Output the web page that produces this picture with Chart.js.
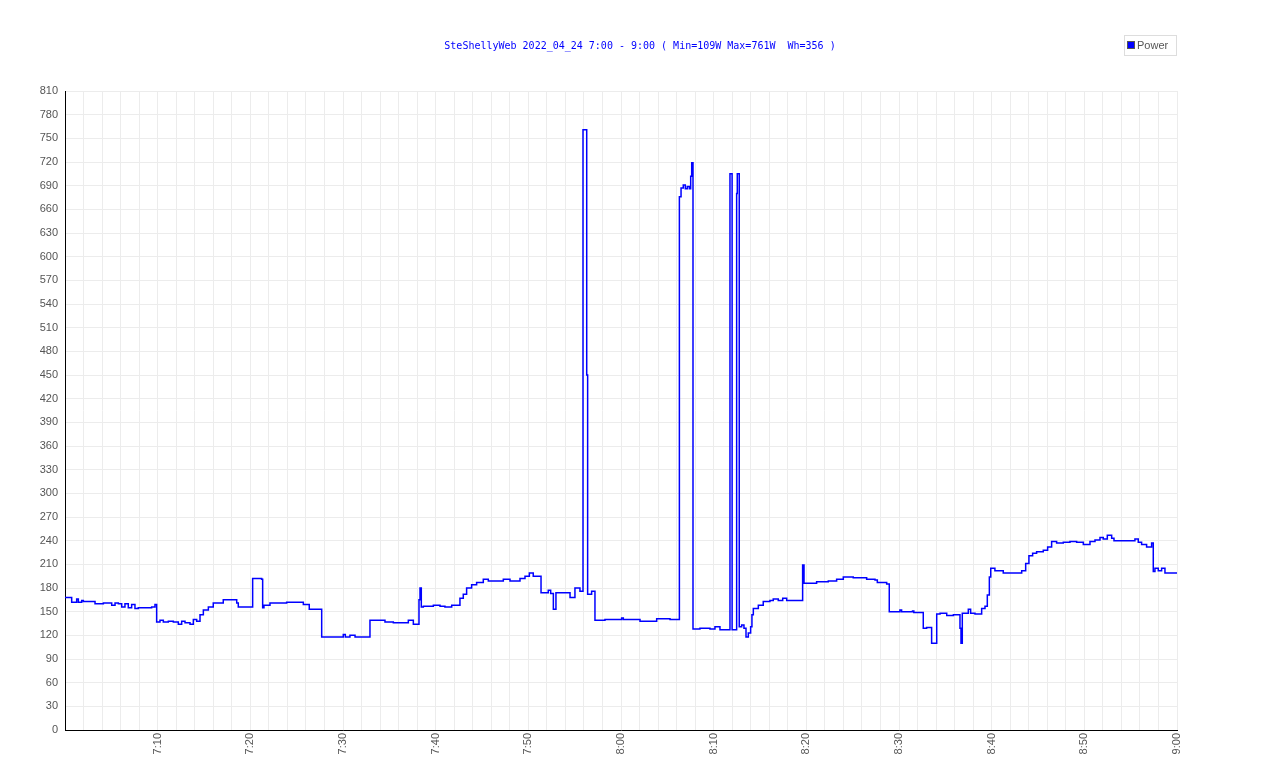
<!DOCTYPE html>
<html>
<head>
<meta charset="utf-8">
<title>SteShellyWeb power</title>
<script src="https://cdn.jsdelivr.net/npm/chart.js@4.4.0/dist/chart.umd.min.js"></script>
<style>
    html, body { margin: 0; padding: 0; background: #ffffff; }
    #wrap { position: relative; width: 1280px; height: 768px; }
</style>
</head>
<body>
<div id="wrap"><canvas id="powerChart" width="1280" height="768"></canvas></div>
<script>
// Chart texts
const chartTitle = 'SteShellyWeb 2022_04_24 7:00 - 9:00 ( Min=109W Max=761W  Wh=356 )';
const seriesLabel = 'Power';

// Axis ticks
const xTickLabels = ['7:10', '7:20', '7:30', '7:40', '7:50', '8:00', '8:10', '8:20', '8:30', '8:40', '8:50', '9:00'];
const yMin = 0;
const yMax = 810;
const yStep = 30;

// Samples: minutes after 7:00 and power in W (value holds until the next sample)
const sampleMinutes = [
    0, 0.72, 1.26, 1.44, 1.80, 1.98, 2.52, 3.24, 4.14, 5.04, 5.40, 5.76, 6.12, 6.47, 6.83, 7.19, 7.55, 7.91, 8.45, 9.35, 9.71,
    9.89, 10.25, 10.61, 11.15, 11.69, 12.23, 12.59, 12.95, 13.49, 13.85, 14.21, 14.57, 14.93, 15.47, 16.0, 17.08, 18.53, 18.7,
    20.25, 21.22, 21.33, 21.47, 22.12, 23.92, 25.72, 26.36, 27.7, 30.03, 30.25, 30.75, 31.3,
    32.91, 34.0, 34.53, 35.43, 37.05, 37.59, 38.2, 38.31, 38.45, 38.67, 39.75, 40.47, 41.0, 41.73,
    42.45, 42.62, 42.98, 43.34, 43.88, 44.42, 45.14, 45.68, 46.58, 47.3, 48.02, 49.1, 49.64, 50.11, 50.53,
    51.37, 52.15, 52.41, 52.7, 52.98, 53.78, 54.5, 55.03, 55.57, 55.9, 56.3, 56.4, 56.83, 57.19,
    58.27, 60.07, 60.25, 62.05, 63.85, 65.29,
    66.3, 66.48, 66.72, 66.94, 67.15, 67.37, 67.52, 67.63, 67.77,
    68.52, 69.6, 70.14, 70.68, 71.76, 71.99, 72.48, 72.55, 72.76, 73.02, 73.27, 73.49, 73.74, 73.99,
    74.13, 74.28, 74.82, 75.35, 76.07, 76.43, 76.97, 77.45, 77.88, 78.59, 79.6, 79.75,
    81.11, 82.37, 83.27, 83.99, 85.06, 85.79, 86.51, 87.41, 87.66, 88.67,
    88.95, 90.1, 90.28, 91.46, 91.6, 92.62, 92.98, 93.52, 94.07, 94.43, 95.15, 95.87, 96.58, 96.69, 96.83,
    97.23, 97.48, 97.73, 98.2, 98.92, 99.28, 99.53, 99.75, 99.9, 100.35, 101.25, 102.33, 103.24,
    103.67, 104.02, 104.42, 104.85, 105.57, 106.04, 106.47, 107.01, 107.73, 108.45, 109.17, 109.89, 110.61,
    111.15, 111.69, 112.04, 112.48, 112.95, 113.2, 114.2, 115.46, 115.82, 116.18, 116.72, 117.26,
    117.44, 117.62, 117.98, 118.34, 118.7, 120
];
const sampleWatts = [
    168, 162, 166, 162, 164, 163, 163, 160, 161, 158, 161, 160, 156, 160, 155, 159, 154, 155, 155, 156, 159,
    137, 139, 137, 138, 137, 134, 138, 136, 134, 140, 138, 146, 152, 156, 161, 165, 161, 156,
    192, 191, 155, 158, 161, 162, 159, 153, 118, 121, 118, 120, 118,
    139, 139, 137, 136, 139, 134, 165, 180, 156, 157, 158, 157, 156, 158,
    158, 167, 172, 180, 184, 187, 191, 189, 189, 191, 189, 192, 195, 199, 195,
    174, 177, 173, 153, 174, 174, 168, 180, 176, 761, 450, 172, 176, 139,
    140, 142, 140, 138, 141, 140,
    676, 687, 691, 686, 689, 686, 702, 719, 128,
    129, 128, 131, 127, 705, 127, 680, 705, 131, 133, 129, 118, 123, 131,
    146, 154, 158, 163, 164, 166, 164, 167, 164, 164, 209, 186,
    188, 189, 191, 194, 193, 193, 191, 190, 187, 185,
    150, 152, 150, 151, 149, 129, 130, 110, 147, 148, 145, 146, 129, 110, 148,
    148, 153, 148, 147, 154, 157, 171, 194, 205, 202, 199, 199, 202,
    211, 221, 224, 226, 228, 232, 239, 237, 238, 239, 238, 235, 239,
    241, 244, 242, 247, 243, 240, 240, 242, 238, 235, 232, 237,
    201, 205, 202, 205, 199, 199
];

// Colours
const lineColor = '#0000ff';
const gridColor = '#ececec';
const tickColor = '#555555';

/**
 * Title and boxed legend, drawn where the reference has them
 */
const headerPlugin = {
    id: 'header',
    afterDraw(chart) {
        const ctx = chart.ctx;
        ctx.save();

        // Title
        ctx.font = '10px "DejaVu Sans Mono", monospace';
        ctx.fillStyle = lineColor;
        ctx.textAlign = 'center';
        ctx.textBaseline = 'middle';
        ctx.fillText(chartTitle, 640, 46);

        // Legend frame
        ctx.strokeStyle = '#dddddd';
        ctx.lineWidth = 1;
        ctx.strokeRect(1124.5, 35.5, 52, 20);

        // Legend marker
        ctx.fillStyle = lineColor;
        ctx.fillRect(1128, 42, 6, 6);
        ctx.strokeStyle = '#555555';
        ctx.strokeRect(1127.5, 41.5, 7, 7);

        // Legend text
        ctx.font = '11px "Liberation Sans", sans-serif';
        ctx.fillStyle = tickColor;
        ctx.textAlign = 'left';
        ctx.fillText(seriesLabel, 1137, 46);

        ctx.restore();
    }
};

/**
 * Create Power Chart
 */
function createPowerChart() {
    const ctx = document.getElementById('powerChart');
    const points = sampleMinutes.map((m, i) => ({ x: m, y: sampleWatts[i] }));

    new Chart(ctx, {
        type: 'line',
        data: {
            datasets: [{
                label: seriesLabel,
                data: points,
                borderColor: lineColor,
                backgroundColor: lineColor,
                borderWidth: 1.5,
                pointRadius: 0,
                stepped: true,
                fill: false
            }]
        },
        options: {
            responsive: false,
            animation: false,
            layout: {
                padding: { top: 91, right: 103, bottom: 0, left: 0 }
            },
            plugins: {
                legend: { display: false },
                title: { display: false },
                tooltip: { enabled: false }
            },
            scales: {
                x: {
                    type: 'linear',
                    min: 0,
                    max: 120,
                    afterFit: (scale) => { scale.height = 38; },
                    ticks: {
                        stepSize: 2,
                        autoSkip: false,
                        maxRotation: 90,
                        minRotation: 90,
                        padding: 3,
                        color: tickColor,
                        font: { size: 11, family: 'Liberation Sans' },
                        callback: (value) => {
                            if (value > 0 && value % 10 === 0) return xTickLabels[value / 10 - 1];
                            return '';
                        }
                    },
                    grid: { color: gridColor, drawTicks: false },
                    border: { color: '#000000', width: 1 }
                },
                y: {
                    min: yMin,
                    max: yMax,
                    afterFit: (scale) => { scale.width = 65; },
                    ticks: {
                        stepSize: yStep,
                        padding: 7,
                        color: tickColor,
                        font: { size: 11, family: 'Liberation Sans' }
                    },
                    grid: { color: gridColor, drawTicks: false },
                    border: { color: '#000000', width: 1 }
                }
            }
        },
        plugins: [headerPlugin]
    });
}

document.addEventListener('DOMContentLoaded', createPowerChart);
</script>
</body>
</html>
